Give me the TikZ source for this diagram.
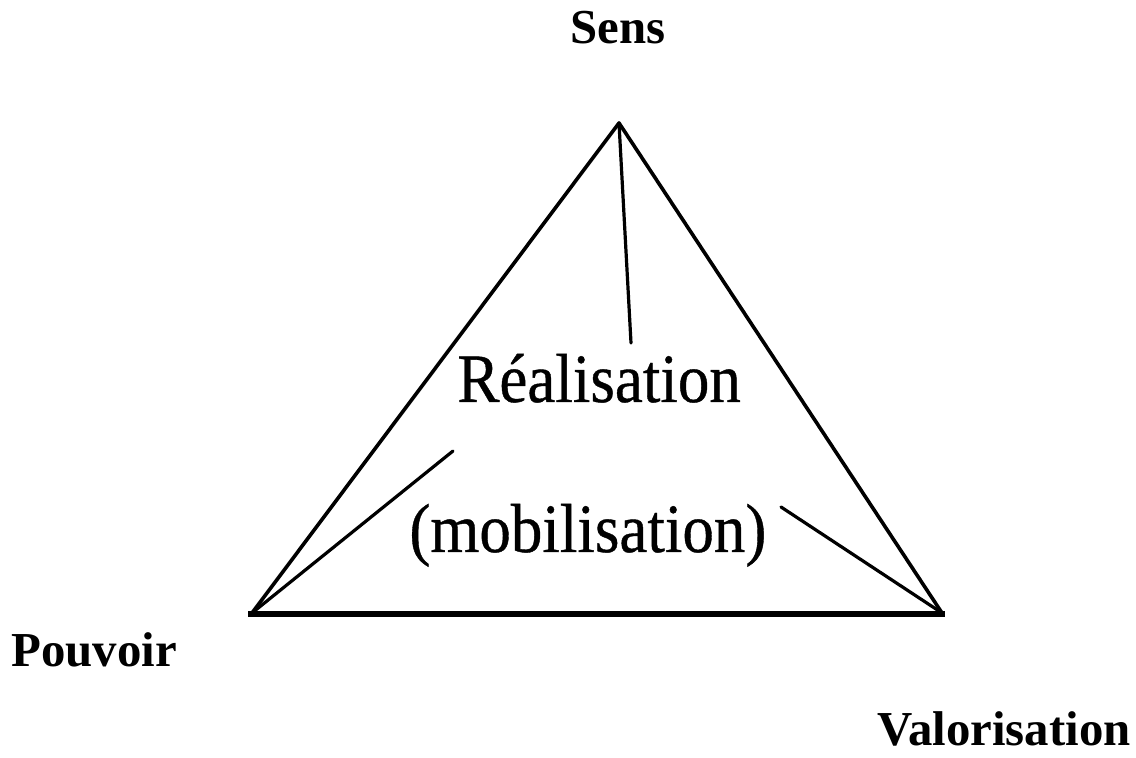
\documentclass[tikz,border=0pt]{standalone}
\usepackage{fontspec}
\usepackage{graphicx}
\setmainfont{Liberation Serif}
\newfontfamily\scanfont[FakeBold=0.6]{Liberation Serif}
\tikzset{
  lbl/.style={anchor=base west, inner sep=0pt, font=\fontsize{24.4}{28}\selectfont\bfseries},
  scan/.style={anchor=base west, inner sep=0pt, font=\scanfont\fontsize{31.5}{36}\selectfont},
  edge/.style={line width=1.8pt, line cap=round, line join=round},
  base/.style={line width=2.6pt},
  inner/.style={line width=1.6pt, line cap=round}
}
\begin{document}
\begin{tikzpicture}[x=0.5pt, y=-0.5pt]
\useasboundingbox (0,0) rectangle (1136,758);
% labels
\node[lbl] (sens) at (570,44) {Sens};
\node[lbl] (pouvoir) at (11,667) {Pouvoir};
\node[lbl] (valor) at (877,746) {Valorisation};
% scanned triangle
\coordinate (apex) at (619,123);
\coordinate (L) at (252,613);
\coordinate (R) at (942,613);
\coordinate (vend) at (631,343);
\coordinate (lend) at (453,451);
\coordinate (rend) at (781,507);
\coordinate (bl) at (248,614);
\coordinate (br) at (945,614);
\draw[edge] (L) -- (apex) -- (R);
\draw[base] (bl) -- (br);
\draw[inner] (apex) -- (vend);
\draw[inner] (L) -- (lend);
\draw[inner] (R) -- (rend);
\node[scan] (real) at (457,402) {\scalebox{1}[1.1]{Réalisation}};
\node[scan] (mobil) at (409,552) {\scalebox{1}[1.1]{(mobilisation)}};
\end{tikzpicture}
\end{document}
